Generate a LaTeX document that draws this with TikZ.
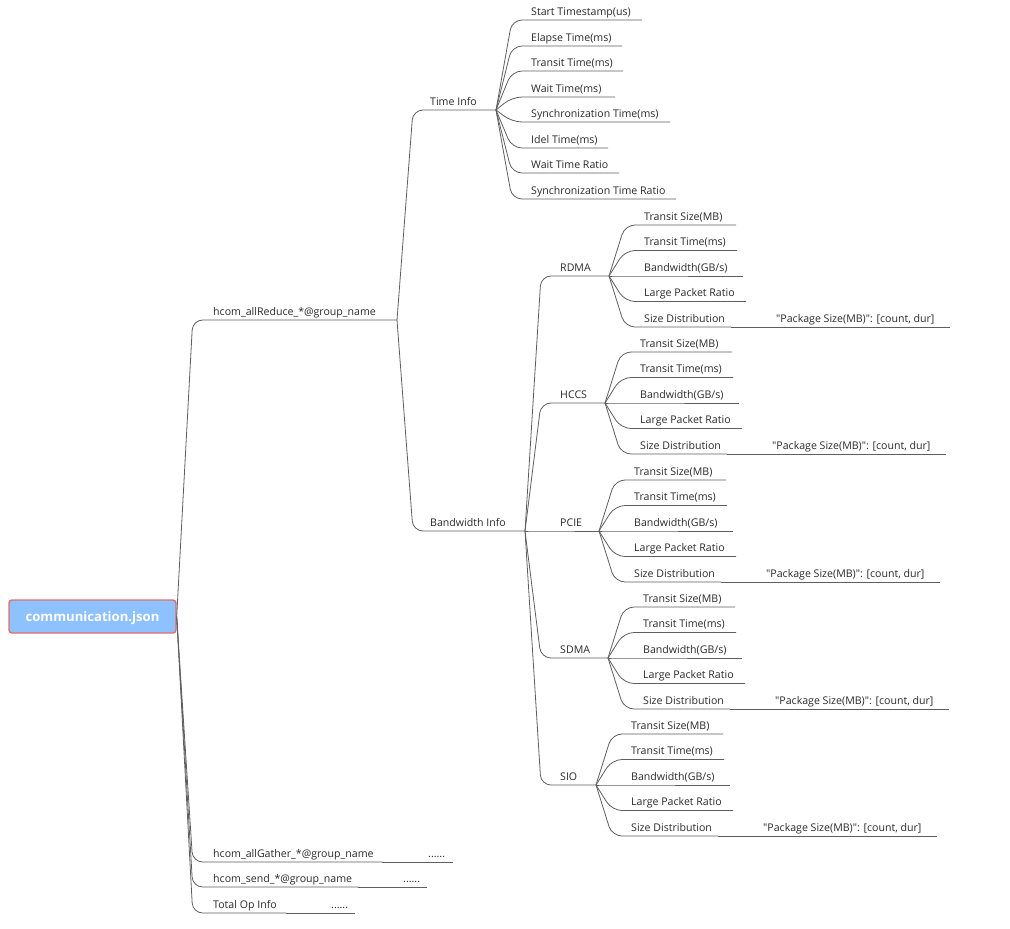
\documentclass[tikz,border=0pt]{standalone}
\usepackage{fontspec}
\newfontfamily\topicfont{Open Sans}[WordSpace=1.6]
\newfontfamily\rootfont{Open Sans}
\usetikzlibrary{calc}
\definecolor{linec}{HTML}{5E5E5E}
\definecolor{txtc}{HTML}{2A2A2A}
\definecolor{rootfill}{HTML}{8EC2FF}
\definecolor{rootline}{HTML}{E26D6D}
\tikzset{
  topic/.style={anchor=base west, inner sep=0pt, text=txtc, font=\topicfont\fontsize{10.6}{12}\selectfont},
  conn/.style={draw=linec, line width=0.8pt, rounded corners=10pt},
  straightconn/.style={draw=linec, line width=0.8pt},
  rootbox/.style={draw=rootline, line width=1.4pt, fill=rootfill, rounded corners=3pt,
    minimum width=167pt, minimum height=33pt, inner sep=0pt, text=white,
    text height=9.5pt, text depth=0pt,
    font=\rootfont\fontsize{13.1}{14}\selectfont\bfseries}
}
% #1 name, #2 parent point, #3 text x, #4 underline y, #5 underline end x, #6 text
\newcommand\mtopic[6]{%
  \node[topic] (#1) at (#3,#4-5) {#6};
  \coordinate (#1-e) at (#5,#4);
  \draw[conn] (#2) -- ($(#2 |- #1-e)+(16,0)$) -- (#1-e);
}
\newcommand\mproto[4]{% #1 name, #2 junction x, #3 underline y, #4 text
  \mtopic{#1}{bi-e}{560}{#3}{#2}{#4}
  \mtopic{#1-a}{#1-e}{#2+35}{#3-51}{#2+127}{Transit Size(MB)}
  \mtopic{#1-b}{#1-e}{#2+35}{#3-25.5}{#2+128}{Transit Time(ms)}
  \mtopic{#1-c}{#1-e}{#2+35}{#3}{#2+134}{Bandwidth(GB/s)}
  \mtopic{#1-d}{#1-e}{#2+35}{#3+25.5}{#2+137}{Large Packet Ratio}
  \mtopic{#1-f}{#1-e}{#2+35}{#3+51}{#2+122}{Size Distribution}
  \node[topic] (#1-g) at (#2+167,#3+51-5) {"Package Size(MB)": [count, dur]};
  \coordinate (#1-g-e) at (#2+341,#3+51);
  \draw[straightconn] (#1-f-e) -- (#1-g-e);
}
\begin{document}
\begin{tikzpicture}[x=1pt,y=-1pt]
\useasboundingbox (0,0) rectangle (1010,929);
\node[rootbox] (root) at (92.5,616.5) {communication.json};

% level 1
\mtopic{ar}{root.east}{213}{320}{397}{hcom\_allReduce\_*@group\_name}
\mtopic{ag}{root.east}{213}{862}{382}{hcom\_allGather\_*@group\_name}
\mtopic{hs}{root.east}{213}{887}{358}{hcom\_send\_*@group\_name}
\mtopic{to}{root.east}{213}{913}{286}{Total Op Info}
\node[topic] (ag-d) at (428,857) {......};
\coordinate (ag-d-e) at (453,862);
\draw[straightconn] (ag-e) -- (ag-d-e);
\node[topic] (hs-d) at (403,882) {......};
\coordinate (hs-d-e) at (427,887);
\draw[straightconn] (hs-e) -- (hs-d-e);
\node[topic] (to-d) at (331,908) {......};
\coordinate (to-d-e) at (355,913);
\draw[straightconn] (to-e) -- (to-d-e);

% level 2
\mtopic{ti}{ar-e}{430}{110}{496}{Time Info}
\mtopic{bi}{ar-e}{430}{531}{525}{Bandwidth Info}

% time info children
\mtopic{t1}{ti-e}{531}{20}{642}{Start Timestamp(us)}
\mtopic{t2}{ti-e}{531}{46}{622}{Elapse Time(ms)}
\mtopic{t3}{ti-e}{531}{71}{623}{Transit Time(ms)}
\mtopic{t4}{ti-e}{531}{97}{615}{Wait Time(ms)}
\mtopic{t5}{ti-e}{531}{122}{670}{Synchronization Time(ms)}
\mtopic{t6}{ti-e}{531}{148}{608}{Idel Time(ms)}
\mtopic{t7}{ti-e}{531}{173}{619}{Wait Time Ratio}
\mtopic{t8}{ti-e}{531}{199}{676}{Synchronization Time Ratio}

% bandwidth children
\mproto{rdma}{609}{276}{RDMA}
\mproto{hccs}{605}{403}{HCCS}
\mproto{pcie}{599}{531}{PCIE}
\mproto{sdma}{608}{658}{SDMA}
\mproto{sio}{596}{785}{SIO}
\end{tikzpicture}
\end{document}
